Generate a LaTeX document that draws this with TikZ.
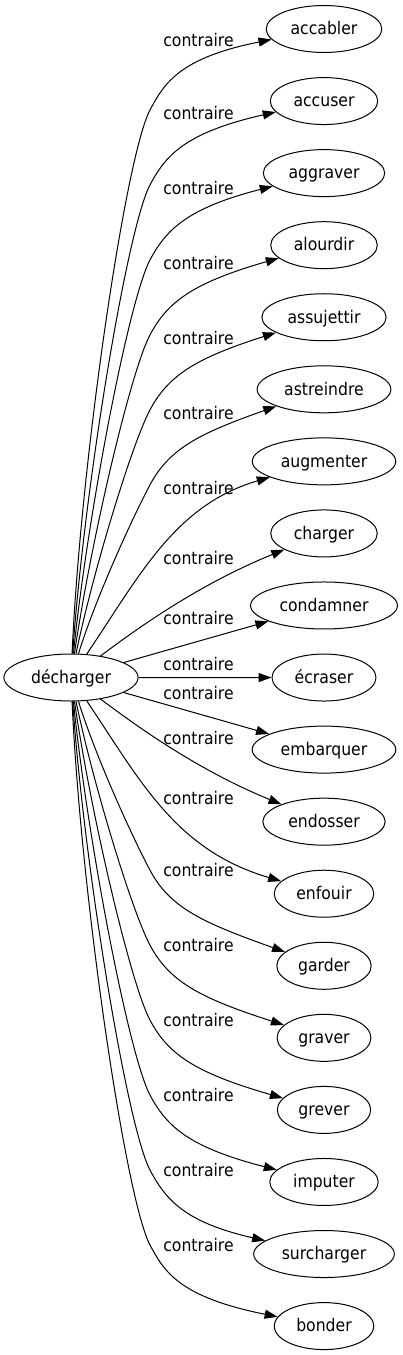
\documentclass[tikz,border=0pt]{standalone}
\usepackage{fontspec}
\setmainfont{DejaVu Sans}[FakeStretch=0.9]
\usetikzlibrary{arrows.meta,shapes.geometric}
\begin{document}
\begin{tikzpicture}[x=1pt,y=-1pt,
  every node/.style={font=\fontsize{17.4}{20}\selectfont},
  word/.style={ellipse, draw, line width=1pt, inner xsep=7.5pt, inner ysep=2pt,
    minimum height=47pt, text height=15.6pt, text depth=4pt},
  rel/.style={anchor=base, inner sep=0pt},
  link/.style={line width=1pt, -{Triangle[length=13pt,width=9pt]}}]
\useasboundingbox (0,0) rectangle (402,1355);
\node[word] (src) at (71,677.5) {décharger};
\foreach \k/\w in {0/accabler,1/accuser,2/aggraver,3/alourdir,4/assujettir,
  5/astreindre,6/augmenter,7/charger,8/condamner,9/écraser,10/embarquer,
  11/endosser,12/enfouir,13/garder,14/graver,15/grever,16/imputer,
  17/surcharger,18/bonder}{
  \node[word] (t\k) at (324,{29+72.06*\k}) {\w};
}
\foreach \i/\ly in {0/42,1/115,2/190,3/265,4/340,5/415,6/490,7/560,8/620,
  9/666,10/695,11/740,12/800,13/872,14/947,15/1022,16/1097,17/1172,18/1247}{
  \node[rel] (l\i) at (198.5,{\ly+4.75}) {contraire};
}
% curved edges, top half and their mirror images
\foreach \k in {0,...,5}{
  \pgfmathsetmacro\eyt{40+73.46*\k}
  \pgfmathsetmacro\ewy{\eyt+70+1.5*\k}
  \pgfmathsetmacro\eh{653-\ewy}
  \pgfmathsetmacro\exs{72+\k}
  \pgfmathsetmacro\efx{0.35-0.00045*\eh}
  \pgfmathsetmacro\eax{\exs+\efx*(150-\exs)}
  \pgfmathsetmacro\eay{653-0.35*\eh}
  \pgfmathsetmacro\elen{0.05*\eh+25}
  \pgfmathsetmacro\ebx{150-0.47*\elen}
  \pgfmathsetmacro\eby{\ewy+0.88*\elen}
  \pgfmathsetmacro\earm{30+2.5*\k}
  \pgfmathsetmacro\ecx{150+0.47*\earm}
  \pgfmathsetmacro\ecy{\ewy-0.88*\earm}
  \pgfmathsetmacro\edx{267-88+4.5*\k}
  \pgfmathsetmacro\edy{\eyt+18+1.5*\k}
  \pgfmathtruncatemacro\ej{18-\k}
  \draw[link] (src) .. controls (\eax,\eay) and (\ebx,\eby) .. (150,\ewy)
     .. controls (\ecx,\ecy) and (\edx,\edy) .. (t\k);
  \draw[link] (src) .. controls (\eax,{1355-\eay}) and (\ebx,{1355-\eby}) .. (150,{1355-\ewy})
     .. controls (\ecx,{1355-\ecy}) and (\edx,{1355-\edy}) .. (t\ej);
}
\draw[link] (src) .. controls (140,575) and (175,505) .. (t6);
\draw[link] (src) .. controls (140,780) and (175,850) .. (t12);
\draw[link] (src) .. controls (125,638) and (190,588) .. (t7);
\draw[link] (src) .. controls (125,717) and (190,767) .. (t11);
\draw[link] (src) -- (t8);
\draw[link] (src) -- (t9);
\draw[link] (src) -- (t10);
\end{tikzpicture}
\end{document}
